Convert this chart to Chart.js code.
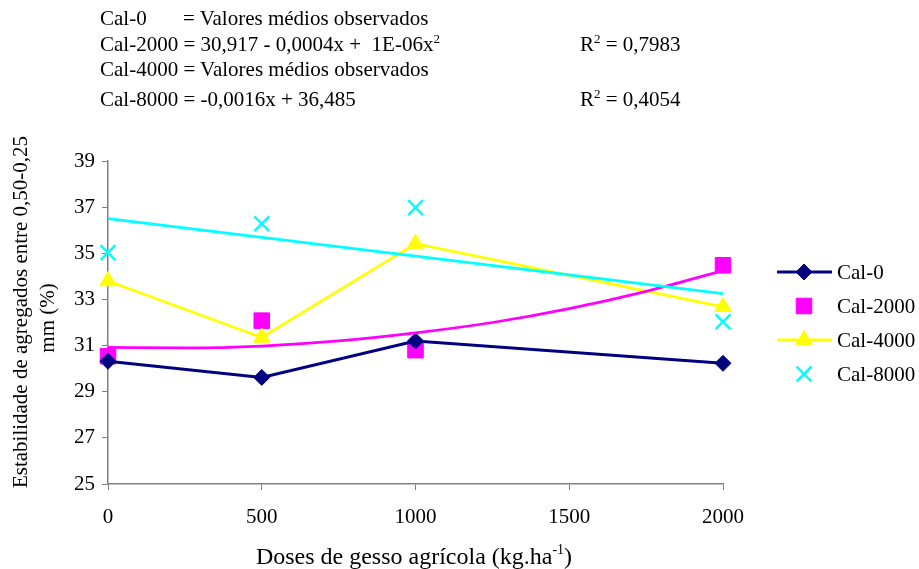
<!DOCTYPE html>
<html>
<head>
<meta charset="utf-8">
<script src="https://cdn.jsdelivr.net/npm/chart.js@4"></script>
<style>
  html, body { margin: 0; padding: 0; background: #fff; }
  #wrap { position: relative; width: 919px; height: 569px; font-family: "Liberation Serif", "Times New Roman", serif; }
  canvas { position: absolute; left: 0; top: 0; }
  .hd { position: absolute; font-size: 21px; line-height: 21px; color: #000; white-space: pre; }
  .hd sup { font-size: 13px; vertical-align: 8px; line-height: 0; }
</style>
</head>
<body>
<div id="wrap">
  <canvas id="chart" width="919" height="569"></canvas>
  <div class="hd" style="left:100px; top:8px;">Cal-0</div>
  <div class="hd" style="left:183px; top:8px;">= Valores médios observados</div>
  <div class="hd" style="left:100px; top:34px;">Cal-2000 = 30,917 - 0,0004x +  1E-06x<sup>2</sup></div>
  <div class="hd" style="left:580px; top:34px;">R<sup>2</sup> = 0,7983</div>
  <div class="hd" style="left:100px; top:59px;">Cal-4000 = Valores médios observados</div>
  <div class="hd" style="left:100px; top:89px;">Cal-8000 = -0,0016x + 36,485</div>
  <div class="hd" style="left:580px; top:89px;">R<sup>2</sup> = 0,4054</div>
</div>
<script>
// Data
const doses = [0, 500, 1000, 2000];
const cal0 = [30.32, 29.62, 31.2, 30.23];
const cal2000 = [30.54, 32.08, 30.8, 34.48];
const cal4000 = [33.8, 31.35, 35.42, 32.68];
const cal8000 = [35.03, 36.28, 36.98, 32.03];

// trend lines as they appear in the picture
const trend2000X = [0, 250, 500, 750, 1000, 1250, 1500, 1750, 2000];
const trend2000Y = [30.92, 30.9, 30.98, 31.2, 31.55, 32.0, 32.6, 33.35, 34.25];
const trend8000X = [0, 2000];
const trend8000Y = [36.5, 33.25];

const yTicks = [25, 27, 29, 31, 33, 35, 37, 39];
const xTicks = [0, 500, 1000, 1500, 2000];

const NAVY = '#000080', MAGENTA = '#ff00ff', YELLOW = '#ffff00', CYAN = '#00ffff';
const FONT = '"Liberation Serif", "Times New Roman", serif';
const pts = (xs, ys) => xs.map((x, i) => ({ x, y: ys[i] }));

const legendItems = [
  { text: 'Cal-0', color: NAVY, line: true, style: 'rectRot', r: 8, bw: 1 },
  { text: 'Cal-2000', color: MAGENTA, line: false, style: 'rect', r: 11, bw: 1 },
  { text: 'Cal-4000', color: YELLOW, line: true, style: 'triangle', r: 9.5, bw: 1 },
  { text: 'Cal-8000', color: CYAN, line: false, style: 'crossRot', r: 10.5, bw: 2.5 }
];

// legend + axis titles drawn on the canvas
const decorPlugin = {
  id: 'decor',
  afterDraw(chart) {
    const ctx = chart.ctx;
    ctx.save();
    ctx.font = '21px ' + FONT;
    ctx.textBaseline = 'middle';

    legendItems.forEach((it, i) => {
      const y = 272 + i * 34;
      if (it.line) {
        ctx.strokeStyle = it.color; ctx.lineWidth = 3;
        ctx.beginPath(); ctx.moveTo(777, y); ctx.lineTo(832, y); ctx.stroke();
      }
      ctx.fillStyle = it.color; ctx.strokeStyle = it.color; ctx.lineWidth = it.bw;
      Chart.helpers.drawPoint(ctx, { pointStyle: it.style, radius: it.r, rotation: 0, borderWidth: it.bw }, 804, y);
      ctx.fillStyle = '#000';
      ctx.textAlign = 'left';
      ctx.fillText(it.text, 837, y + 1);
    });

    // y title, two lines
    ctx.fillStyle = '#000';
    ctx.textAlign = 'center';
    ctx.save();
    ctx.translate(21, 312); ctx.rotate(-Math.PI / 2);
    ctx.fillText('Estabilidade de agregados entre 0,50-0,25', 0, 0);
    ctx.restore();
    ctx.save();
    ctx.translate(48, 318); ctx.rotate(-Math.PI / 2);
    ctx.fillText('mm (%)', 0, 0);
    ctx.restore();

    // x title with superscript
    const main = 'Doses de gesso agrícola (kg.ha', sup = '-1', end = ')';
    const big = '24px ' + FONT, small = '14px ' + FONT;
    ctx.font = big;
    const w1 = ctx.measureText(main).width, w3 = ctx.measureText(end).width;
    ctx.font = small;
    const w2 = ctx.measureText(sup).width;
    let x = 414 - (w1 + w2 + w3) / 2;
    ctx.textAlign = 'left';
    ctx.textBaseline = 'alphabetic';
    ctx.font = big;
    ctx.fillText(main, x, 564);
    ctx.font = small;
    ctx.fillText(sup, x + w1, 554);
    ctx.font = big;
    ctx.fillText(end, x + w1 + w2, 564);
    ctx.restore();
  }
};

new Chart(document.getElementById('chart'), {
  type: 'scatter',
  data: {
    datasets: [
      { label: 'trend-8000', data: pts(trend8000X, trend8000Y), showLine: true, borderColor: CYAN, borderWidth: 2.75, pointRadius: 0, clip: false },
      { label: 'trend-2000', data: pts(trend2000X, trend2000Y), showLine: true, borderColor: MAGENTA, borderWidth: 2.75, pointRadius: 0, cubicInterpolationMode: 'monotone', clip: false },
      { label: 'Cal-4000', data: pts(doses, cal4000), showLine: true, borderColor: YELLOW, backgroundColor: YELLOW, borderWidth: 2.75, pointStyle: 'triangle', pointRadius: 9.5, pointBorderWidth: 1, clip: false },
      { label: 'Cal-0', data: pts(doses, cal0), showLine: true, borderColor: NAVY, backgroundColor: NAVY, borderWidth: 3, pointStyle: 'rectRot', pointRadius: 8, pointBorderWidth: 1, clip: false },
      { label: 'Cal-2000', data: pts(doses, cal2000), showLine: false, borderColor: MAGENTA, backgroundColor: MAGENTA, pointStyle: 'rect', pointRadius: 11, pointBorderWidth: 1, clip: false },
      { label: 'Cal-8000', data: pts(doses, cal8000), showLine: false, borderColor: CYAN, backgroundColor: CYAN, pointStyle: 'crossRot', pointRadius: 10.5, pointBorderWidth: 2.5, clip: false }
    ]
  },
  options: {
    responsive: false,
    animation: false,
    layout: { padding: { left: 0, top: 161, right: 196, bottom: 0 } },
    plugins: { legend: { display: false }, tooltip: { enabled: false } },
    scales: {
      x: {
        type: 'linear', min: 0, max: 2000,
        afterBuildTicks: (s) => { s.ticks = xTicks.map(v => ({ value: v })); },
        afterFit: (s) => { s.height = 85; },
        grid: { display: true, drawOnChartArea: false, drawTicks: true, tickLength: 6, color: '#808080' },
        border: { display: true, color: '#808080', width: 1.5 },
        ticks: { color: '#000', font: { family: FONT, size: 21 }, padding: 15, maxRotation: 0, callback: (v) => String(v) }
      },
      y: {
        min: 25, max: 39,
        afterBuildTicks: (s) => { s.ticks = yTicks.map(v => ({ value: v })); },
        afterFit: (s) => { s.width = 108; },
        grid: { display: true, drawOnChartArea: false, drawTicks: true, tickLength: 6, color: '#808080' },
        border: { display: true, color: '#808080', width: 1.5 },
        ticks: { color: '#000', font: { family: FONT, size: 21 }, padding: 7, callback: (v) => String(v) }
      }
    }
  },
  plugins: [decorPlugin]
});
</script>
</body>
</html>
